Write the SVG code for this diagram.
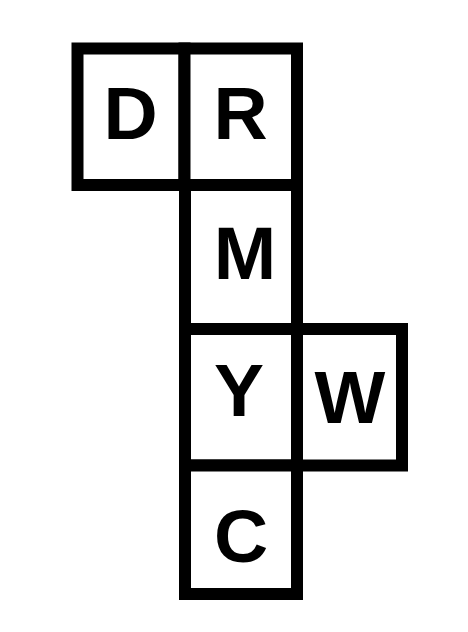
<svg xmlns="http://www.w3.org/2000/svg" width="468" height="632" viewBox="0 0 468 632">
<style>
.cell{fill:#ffffff;stroke:#000000;stroke-width:12}
.lbl{font-family:"Liberation Sans",Arial,sans-serif;font-weight:bold;font-size:75px;fill:#000000;text-anchor:middle}
</style>
<rect width="468" height="632" fill="#ffffff"/>
<g id="node-D"><rect class="cell" x="77.5" y="48.5" width="107" height="136.5"/><text class="lbl" x="130.5" y="139">D</text></g>
<g id="node-R"><rect class="cell" x="184.5" y="48.5" width="112.5" height="136.5"/><text class="lbl" x="240.5" y="139">R</text></g>
<g id="node-M"><rect class="cell" x="185" y="185" width="112" height="144"/><text class="lbl" x="245" y="279">M</text></g>
<g id="node-Y"><rect class="cell" x="185" y="329" width="112" height="136.5"/><text class="lbl" x="239" y="416">Y</text></g>
<g id="node-W"><rect class="cell" x="297" y="329" width="105" height="136.5"/><text class="lbl" x="350" y="423" font-size="71">W</text></g>
<g id="node-C"><rect class="cell" x="185" y="465.5" width="112" height="128.5"/><text class="lbl" x="241" y="562">C</text></g>
<g id="connectors"></g>
</svg>
